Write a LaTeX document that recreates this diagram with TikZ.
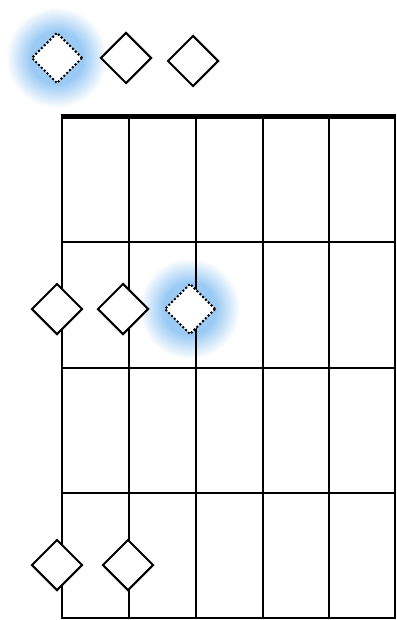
\documentclass[tikz,border=0pt]{standalone}
\usetikzlibrary{shapes.geometric}
\definecolor{glowc}{RGB}{155,203,245}
\begin{document}
\begin{tikzpicture}[x=1bp,y=-1bp,
  gridline/.style={line width=2bp,black},
  nutline/.style={line width=5bp,black},
  dmd/.style={diamond,draw=black,fill=white,line width=2bp,minimum width=51bp,minimum height=51bp,inner sep=0pt},
  dmddot/.style={dmd,dotted}]
\useasboundingbox (0,0) rectangle (396,620);
% glows
\foreach \c in {(57,58),(190,309)}{
  \foreach \r in {51,50,...,1}{
    \pgfmathsetmacro{\p}{min(100,max(0,(51-\r)/24*100))}
    \fill[glowc!\p!white] \c circle (\r);
  }
}
% strings
\foreach \x in {62,129,196,263,329,395}{
  \draw[gridline] (\x,117) -- (\x,619);
}
% frets
\foreach \y in {242,368,493,618}{
  \draw[gridline] (61,\y) -- (396,\y);
}
\draw[nutline] (61,116.5) -- (396,116.5);
% diamonds
\node[dmddot] (a1) at (57,58) {};
\node[dmd] (a2) at (126,58) {};
\node[dmd] (a3) at (193,61) {};
\node[dmd] (b1) at (57,309) {};
\node[dmd] (b2) at (123,309) {};
\node[dmddot] (b3) at (190,309) {};
\node[dmd] (c1) at (57,565) {};
\node[dmd] (c2) at (128,565) {};
\end{tikzpicture}
\end{document}
